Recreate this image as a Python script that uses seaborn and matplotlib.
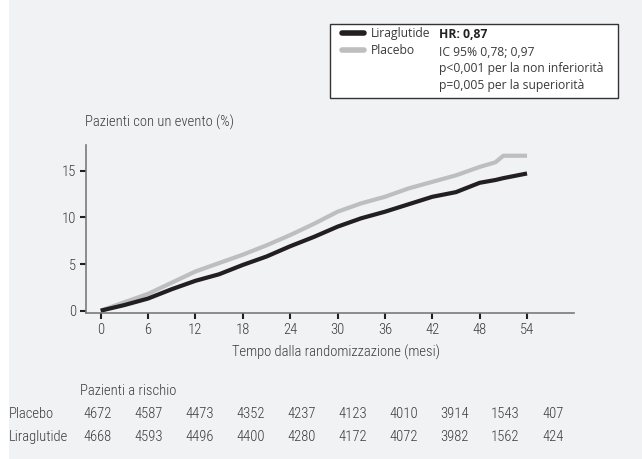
import numpy as np
import pandas as pd
import seaborn as sns
import matplotlib.pyplot as plt
from matplotlib.patches import Rectangle

# months since randomisation, and cumulative % with an event
months = [0, 3, 6, 9, 12, 15, 18, 21, 24, 27, 30, 33, 36, 39, 42, 45, 48, 50, 51, 54]
placebo = [0, 0.9, 1.8, 3.0, 4.2, 5.1, 6.0, 7.0, 8.1, 9.3, 10.6, 11.5, 12.2, 13.1, 13.8,
           14.5, 15.4, 15.9, 16.6, 16.6]
liraglutide = [0, 0.6, 1.3, 2.3, 3.2, 3.9, 4.9, 5.8, 6.9, 7.9, 9.0, 9.9, 10.6, 11.4, 12.2,
               12.7, 13.7, 14.0, 14.2, 14.7]

xticks = [0, 6, 12, 18, 24, 30, 36, 42, 48, 54]
yticks = [0, 5, 10, 15]

risk_placebo = [4672, 4587, 4473, 4352, 4237, 4123, 4010, 3914, 1543, 407]
risk_lira = [4668, 4593, 4496, 4400, 4280, 4172, 4072, 3982, 1562, 424]

stats_lines = ["IC 95% 0,78; 0,97", "p<0,001 per la non inferiorità",
               "p=0,005 per la superiorità"]

df = pd.DataFrame({
    "Mese": months * 2,
    "Valore": liraglutide + placebo,
    "Gruppo": ["Liraglutide"] * len(months) + ["Placebo"] * len(months),
})

W, H = 642, 459
def fx(px):
    return px / W
def fy(py):
    return 1 - py / H

bg = "#f1f2f4"
narrow = ["Roboto Condensed", "Asap Condensed", "DejaVu Sans"]
normal = ["Open Sans", "Noto Sans", "DejaVu Sans"]
txtcol = "#3a3a3a"
fs = 10.5
lfs = 8.7
lw = 300  # light weight, closer to the condensed face of the original

sns.set_style("white")
plt.rcParams["font.family"] = narrow
plt.rcParams["font.weight"] = lw

fig = plt.figure(figsize=(6.42, 4.59), dpi=100, facecolor="white")
fig.patches.append(Rectangle((fx(9), 0), 1, 1, transform=fig.transFigure,
                             facecolor=bg, edgecolor="none", zorder=-10))

ax = fig.add_axes([fx(86), fy(313), fx(574) - fx(86), fy(145) - fy(313)])
ax.set_facecolor(bg)

sns.lineplot(data=df, x="Mese", y="Valore", hue="Gruppo",
             hue_order=["Placebo", "Liraglutide"],
             palette={"Placebo": "#bdbec0", "Liraglutide": "#231f20"},
             linewidth=3.0, ax=ax, legend=False, solid_capstyle="butt")

ax.set_xlim(-1.86, 59.95)
ax.set_ylim(-0.25, 17.75)
ax.set_xticks(xticks)
ax.set_yticks(yticks)
ax.set_xlabel("")
ax.set_ylabel("")
for s in ["top", "right"]:
    ax.spines[s].set_visible(False)
for s in ["left", "bottom"]:
    ax.spines[s].set_color("#7a7a7a")
    ax.spines[s].set_linewidth(1.2)
ax.tick_params(axis="both", direction="out", length=4, width=1.5, color="#231f20",
               labelsize=fs, labelcolor=txtcol, pad=3, bottom=True, left=True)

fig.text(fx(85), fy(122), "Pazienti con un evento (%)", fontsize=fs, color=txtcol,
         ha="left", va="center")
fig.text(fx(336), fy(352), "Tempo dalla randomizzazione (mesi)", fontsize=fs,
         color=txtcol, ha="center", va="center")

# at-risk table
fig.text(fx(80), fy(391), "Pazienti a rischio", fontsize=fs, color=txtcol,
         ha="left", va="center")
for name, vals, py in [("Placebo", risk_placebo, 414), ("Liraglutide", risk_lira, 437)]:
    fig.text(fx(9), fy(py), name, fontsize=fs, color=txtcol, ha="left", va="center")
    for i, v in enumerate(vals):
        fig.text(fx(83 + 51 * i), fy(py), str(v), fontsize=fs, color=txtcol,
                 ha="left", va="center")

# legend box
fig.patches.append(Rectangle((fx(330), fy(98)), fx(618) - fx(330), fy(24) - fy(98),
                             transform=fig.transFigure, facecolor="white",
                             edgecolor="#333333", linewidth=1.0, zorder=1))
handles = [plt.Line2D([], [], color="#231f20", linewidth=4, solid_capstyle="round"),
           plt.Line2D([], [], color="#bdbec0", linewidth=4, solid_capstyle="round")]
leg = fig.legend(handles, ["Liraglutide", "Placebo"], loc="upper left",
                 bbox_to_anchor=(fx(342), fy(27)), frameon=False, borderpad=0,
                 borderaxespad=0, handlelength=1.8, handletextpad=0.6,
                 labelspacing=0.35, prop={"family": normal, "size": lfs, "weight": "normal"})
for t in leg.get_texts():
    t.set_color(txtcol)
leg.set_zorder(2)

fig.text(fx(439), fy(35), "HR: 0,87", fontsize=lfs, fontweight="bold", family=normal,
         color="#222222", ha="left", va="center", zorder=3)
for i, line in enumerate(stats_lines):
    fig.text(fx(439), fy(52 + 16.8 * i), line, fontsize=lfs, family=normal,
             fontweight="normal", color=txtcol, ha="left", va="center", zorder=3)

fig.savefig("out.png", dpi=100, facecolor=fig.get_facecolor())
